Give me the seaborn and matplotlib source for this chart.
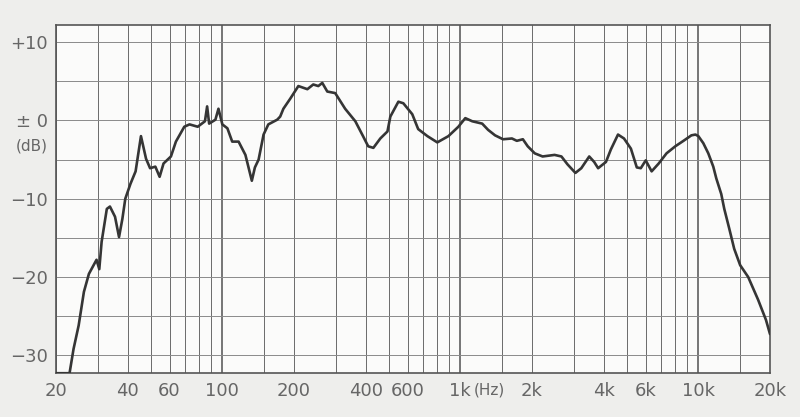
import matplotlib
matplotlib.use("Agg")
import matplotlib.pyplot as plt
import matplotlib.transforms as mtransforms
import pandas as pd
import seaborn as sns

# frequency response
freq_hz = [
    20, 22.8, 23.7, 24.9, 26.2, 27.5, 29.6, 30.4, 31.1, 32.7, 33.7, 35.4,
    36.8, 38.0, 39.1, 41.1, 43.2, 45.5, 47.8, 49.7, 52.3, 54.5, 56.6, 60.8,
    63.8, 69.2, 72.8, 78.8, 84.5, 86.3, 88.0, 93.5, 96.3, 100, 105, 110,
    117, 125, 133, 137, 142, 149, 156, 170, 175, 180.5, 193, 208.6, 227.6,
    241, 253, 263, 276, 298, 328, 362, 390, 410, 431, 461, 494, 508, 549,
    576, 628, 665, 727, 800, 891, 981, 1049, 1122, 1235, 1308, 1399, 1511,
    1647, 1727, 1831, 1919, 2054, 2216, 2488, 2659, 2818, 3044, 3222, 3479,
    3650, 3792, 4090, 4290, 4596, 4870, 5207, 5513, 5730, 6010, 6364, 6813,
    7350, 8000, 8660, 9350, 9720, 10000, 10490, 11010, 11553, 11895, 12480,
    12850, 13480, 14145, 14990, 16190, 17820, 19240, 20000,
]
level_db = [
    -32.3, -32.3, -29.2, -26.2, -21.9, -19.6, -17.8, -19.0, -15.5, -11.3,
    -11.0, -12.3, -14.9, -12.6, -10.0, -8.1, -6.5, -2.0, -4.9, -6.1, -5.9,
    -7.2, -5.5, -4.6, -2.7, -0.8, -0.5, -0.8, -0.1, 1.8, -0.4, 0.1, 1.5,
    -0.5, -1.0, -2.7, -2.7, -4.4, -7.7, -6.0, -5.0, -1.8, -0.5, 0.1, 0.5,
    1.5, 2.8, 4.4, 4.0, 4.6, 4.4, 4.8, 3.7, 3.5, 1.5, -0.1, -2.0, -3.3,
    -3.5, -2.3, -1.4, 0.5, 2.4, 2.2, 0.8, -1.1, -2.0, -2.8, -2.0, -0.8, 0.3,
    -0.1, -0.4, -1.2, -1.9, -2.4, -2.3, -2.6, -2.4, -3.3, -4.2, -4.6, -4.4,
    -4.6, -5.6, -6.7, -6.1, -4.6, -5.3, -6.1, -5.3, -3.7, -1.8, -2.3, -3.6,
    -6.0, -6.1, -5.1, -6.5, -5.5, -4.2, -3.3, -2.6, -1.9, -1.8, -2.0, -2.9,
    -4.2, -5.9, -7.4, -9.4, -11.3, -13.8, -16.4, -18.5, -20.0, -22.9, -25.5,
    -27.3,
]

grid_freqs = [20, 30, 40, 50, 60, 70, 80, 90, 100, 150, 200, 300, 400, 500,
              600, 700, 800, 900, 1000, 1500, 2000, 3000, 4000, 5000, 6000,
              7000, 8000, 9000, 10000, 15000, 20000]
major_freqs = [100, 1000, 10000]
grid_db = [10, 5, 0, -5, -10, -15, -20, -25, -30]

x_ticks = [20, 40, 60, 100, 200, 400, 600, 1000, 2000, 4000, 6000, 10000, 20000]
x_labels = ["20", "40", "60", "100", "200", "400", "600", "1k", "2k", "4k",
            "6k", "10k", "20k"]
y_ticks = [10, 0, -10, -20, -30]
y_labels = ["+10", "± 0", "−10", "−20", "−30"]

df = pd.DataFrame({"freq": freq_hz, "db": level_db})

sns.set_style("white")
plt.rcParams["font.family"] = ["DejaVu Sans"]

fig = plt.figure(figsize=(8, 4.17), dpi=100, facecolor="#eeeeec")
ax = fig.add_axes([0.07, 0.105, 0.8925, 0.835])
ax.set_facecolor("#fbfbfa")

for f in grid_freqs:
    lw = 1.3 if f in major_freqs else 0.7
    ax.axvline(f, color="#6a6a6a", lw=lw, zorder=1)
for d in grid_db:
    ax.axhline(d, color="#8a8a8a", lw=0.7, zorder=1)

sns.lineplot(data=df, x="freq", y="db", ax=ax, color="#353535",
             linewidth=1.9, zorder=3)

ax.set_xscale("log")
ax.set_xlim(20, 20000)
ax.set_ylim(-32.3, 12.2)
ax.set_xlabel("")
ax.set_ylabel("")
ax.set_xticks(x_ticks)
ax.set_xticklabels(x_labels)
ax.minorticks_off()
ax.set_yticks(y_ticks)
ax.set_yticklabels(y_labels)
ax.tick_params(length=0, labelsize=13, labelcolor="#666666", pad=6)

for s in ax.spines.values():
    s.set_color("#555555")
    s.set_linewidth(1.2)

trans = mtransforms.blended_transform_factory(ax.transData, ax.transAxes)
ax.text(1135, -0.048, "(Hz)", transform=trans, ha="left", va="center",
        fontsize=11, color="#666666")
trans_y = mtransforms.blended_transform_factory(ax.transAxes, ax.transData)
ax.text(-0.012, -3.3, "(dB)", transform=trans_y, ha="right", va="center",
        fontsize=11, color="#666666")

fig.savefig("out.png", dpi=100, facecolor=fig.get_facecolor())
